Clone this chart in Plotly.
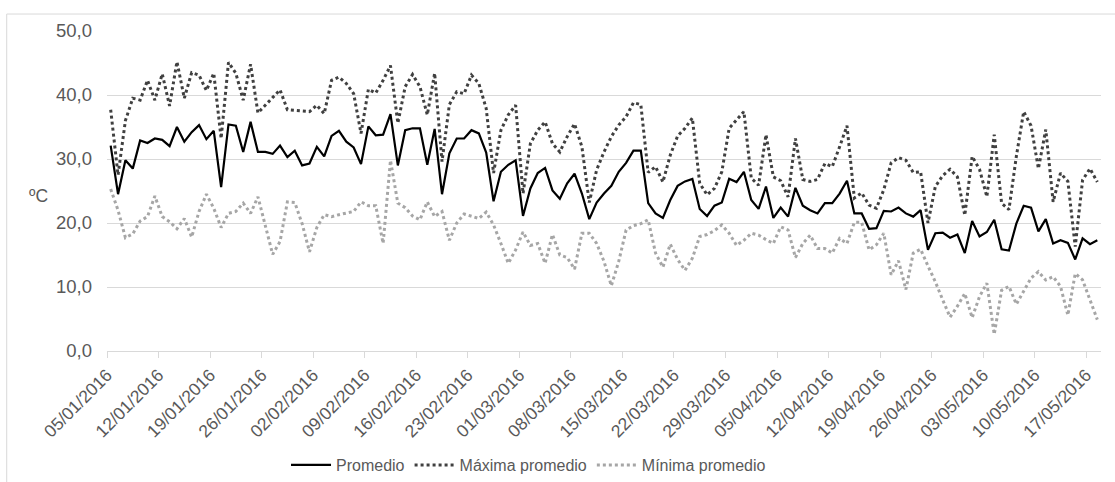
import pandas as pd
import plotly.graph_objects as go

start_date = "2016-01-05"
n_days = 135

promedio = [32.1, 24.5, 29.8, 28.5, 32.9, 32.5, 33.2, 33.0, 32.0, 35.0,
            32.7, 34.2, 35.3, 33.1, 34.4, 25.6, 35.4, 35.2, 31.1, 35.8,
            31.1, 31.1, 30.8, 32.1, 30.3, 31.3, 29.0, 29.3, 31.9, 30.4,
            33.6, 34.4, 32.7, 31.8, 29.2, 35.1, 33.7, 33.8, 37.0, 29.0,
            34.5, 34.8, 34.8, 29.1, 34.7, 24.5, 30.9, 33.2, 33.2, 34.5,
            34.0, 31.0, 23.4, 28.0, 29.1, 29.8, 21.1, 25.4, 27.8, 28.6,
            25.1, 23.8, 26.2, 27.7, 24.6, 20.6, 23.2, 24.6, 25.8, 28.0,
            29.4, 31.3, 31.3, 23.1, 21.5, 20.8, 23.6, 25.8, 26.5, 26.9,
            22.2, 21.1, 22.7, 23.2, 26.9, 26.4, 28.0, 23.6, 22.2, 25.7,
            20.8, 22.4, 21.0, 25.5, 22.7, 22.0, 21.5, 23.1, 23.1, 24.6,
            26.6, 21.5, 21.5, 19.1, 19.2, 21.9, 21.8, 22.4, 21.5, 21.0,
            22.0, 15.8, 18.4, 18.5, 17.7, 18.2, 15.3, 20.3, 17.9, 18.6,
            20.5, 15.9, 15.7, 19.9, 22.7, 22.4, 18.7, 20.6, 16.8, 17.3,
            16.9, 14.3, 17.6, 16.7, 17.3]

maxima = [37.7, 27.5, 36.0, 39.5, 39.2, 42.3, 39.2, 43.3, 38.3, 45.2,
          39.5, 43.5, 43.1, 40.7, 43.4, 33.2, 45.1, 43.4, 39.2, 44.8,
          37.2, 38.4, 39.7, 40.8, 37.7, 37.6, 37.5, 37.4, 38.4, 37.1,
          42.3, 42.8, 41.8, 40.2, 34.0, 40.9, 40.3, 42.3, 44.6, 35.6,
          41.3, 43.2, 41.3, 36.9, 43.4, 29.6, 38.5, 40.5, 40.2, 43.1,
          41.8, 37.9, 27.8, 34.5, 36.9, 38.4, 24.6, 32.4, 34.5, 35.8,
          32.4, 31.1, 33.5, 35.5, 31.9, 23.2, 28.3, 31.1, 33.5, 35.3,
          36.6, 38.8, 38.5, 27.9, 28.8, 26.4, 30.6, 33.6, 34.8, 36.4,
          26.2, 24.4, 25.4, 28.0, 34.8, 36.1, 37.4, 27.0, 25.9, 33.8,
          27.2, 26.6, 24.1, 33.2, 26.8, 26.5, 26.8, 29.3, 28.8, 31.9,
          35.2, 23.9, 24.7, 22.8, 22.3, 25.2, 29.4, 30.2, 29.8, 27.9,
          28.0, 20.0, 25.7, 27.4, 28.4, 27.2, 21.2, 30.4, 28.4, 24.1,
          33.8, 23.1, 22.1, 30.4, 37.4, 35.2, 28.5, 34.6, 23.3, 27.8,
          26.5, 16.3, 26.7, 28.5, 26.4]

minima = [25.3, 22.0, 17.7, 18.3, 20.3, 21.0, 24.2, 21.0, 20.2, 19.1,
          20.7, 17.8, 21.8, 24.5, 22.3, 19.3, 21.5, 21.8, 23.1, 21.5,
          24.1, 19.4, 15.1, 17.1, 23.3, 23.2, 19.9, 15.5, 19.3, 21.3,
          21.0, 21.3, 21.6, 21.8, 23.3, 22.7, 22.7, 16.8, 29.8, 23.1,
          22.4, 21.1, 20.5, 23.3, 21.0, 21.8, 17.3, 20.0, 21.4, 21.0,
          20.7, 21.7, 19.7, 16.8, 13.7, 15.8, 18.6, 16.5, 16.8, 13.7,
          18.2, 15.0, 14.6, 12.8, 18.4, 18.4, 16.8, 14.0, 10.2, 14.0,
          18.9, 19.6, 19.9, 20.5, 15.3, 13.1, 16.7, 14.3, 12.6, 14.5,
          17.9, 18.2, 18.8, 19.7, 18.4, 16.5, 17.3, 18.4, 18.1, 17.4,
          16.8, 19.4, 18.9, 14.6, 16.8, 18.1, 16.0, 16.0, 15.3, 17.6,
          16.8, 20.1, 20.1, 15.8, 16.6, 18.4, 11.9, 14.1, 9.6, 15.3,
          15.9, 13.3, 10.8, 8.0, 5.3, 7.0, 9.0, 5.2, 8.5, 10.6,
          2.6, 9.5, 10.1, 7.3, 9.3, 11.4, 12.4, 11.1, 11.6, 10.1,
          5.6, 12.1, 11.1, 8.0, 4.9]

series_names = ["Promedio", "Máxima promedio", "Mínima promedio"]
y_title = "ºC"

# each day's value sits in the middle of its day slot (date axis)
dates = pd.date_range(start_date, periods=n_days, freq="D") + pd.Timedelta(hours=12)

TXT = "#595959"
GRID = "#d9d9d9"
FONT = "Liberation Sans, Arial, sans-serif"

fig = go.Figure()
fig.add_trace(go.Scatter(x=dates, y=promedio, name=series_names[0], mode="lines",
                         line=dict(color="#000000", width=2.2)))
fig.add_trace(go.Scatter(x=dates, y=maxima, name=series_names[1], mode="lines",
                         line=dict(color="#404040", width=3, dash="3px,3px")))
fig.add_trace(go.Scatter(x=dates, y=minima, name=series_names[2], mode="lines",
                         line=dict(color="#a6a6a6", width=3, dash="3px,3px")))

x_start = pd.Timestamp(start_date)
x_end = x_start + pd.Timedelta(days=n_days)

fig.update_layout(
    width=1115, height=482, autosize=False,
    margin=dict(l=107, r=14, t=31, b=131, pad=0, autoexpand=False),
    paper_bgcolor="white", plot_bgcolor="white",
    font=dict(family=FONT, size=16, color=TXT),
    showlegend=True,
    legend=dict(orientation="h", xref="container", yref="container",
                x=0.474, xanchor="center", y=1 - 465 / 482, yanchor="middle",
                font=dict(family=FONT, size=16, color=TXT), itemwidth=40,
                traceorder="normal", bgcolor="rgba(0,0,0,0)"),
    xaxis=dict(type="date", range=[x_start, x_end], automargin=False,
               tick0=x_start, dtick=7 * 86400000, tickformat="%d/%m/%Y",
               tickangle=-45, ticks="outside", ticklen=6, tickcolor=GRID,
               showline=True, linecolor=GRID, linewidth=1,
               showgrid=False, zeroline=False,
               tickfont=dict(family=FONT, size=17.5, color=TXT)),
    yaxis=dict(range=[0, 50], dtick=10, tickformat=".1f", automargin=False,
               showgrid=True, gridcolor=GRID, gridwidth=1, zeroline=False,
               showline=False, ticks="", ticklabelstandoff=14,
               tickfont=dict(family=FONT, size=18.5, color=TXT)),
    separators=",.",
    annotations=[dict(text=y_title, xref="paper", yref="paper", x=-0.0687, y=0.485,
                      xanchor="center", yanchor="middle", showarrow=False,
                      font=dict(family=FONT, size=17.5, color=TXT))],
    shapes=[
        dict(type="line", xref="paper", yref="paper", x0=-0.1009, x1=1.02, y0=1.053, y1=1.053,
             line=dict(color=GRID, width=1)),
        dict(type="line", xref="paper", yref="paper", x0=-0.1009, x1=-0.1009, y0=1.053, y1=-0.42,
             line=dict(color=GRID, width=1)),
    ],
)

fig.write_html("out.html", config={"displayModeBar": False},
               post_script="document.body.style.margin='0';document.body.style.padding='0';")
